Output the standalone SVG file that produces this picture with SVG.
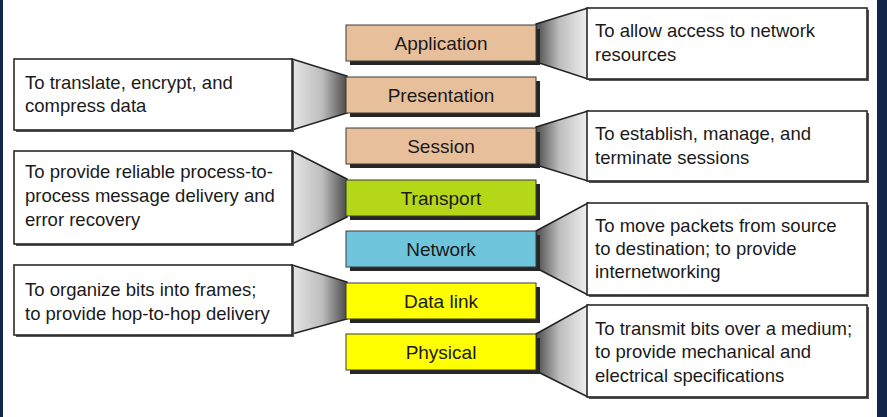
<svg xmlns="http://www.w3.org/2000/svg" width="887" height="417" viewBox="0 0 887 417">
<defs>
<linearGradient id="gR" x1="0" y1="0" x2="1" y2="0">
<stop offset="0" stop-color="#4a4a4a"/>
<stop offset="0.45" stop-color="#bdbdbd"/>
<stop offset="1" stop-color="#f0f0f0"/>
</linearGradient>
<linearGradient id="gL" x1="1" y1="0" x2="0" y2="0">
<stop offset="0" stop-color="#4a4a4a"/>
<stop offset="0.45" stop-color="#bdbdbd"/>
<stop offset="1" stop-color="#e6e6e6"/>
</linearGradient>
<style>
.cR{fill:url(#gR);stroke:#222;stroke-width:1.5;stroke-linejoin:miter}
.cL{fill:url(#gL);stroke:#222;stroke-width:1.5;stroke-linejoin:miter}
.sh{fill:#262626}
.lay{stroke:#3a3a3a;stroke-width:1}
.peach{fill:#e8bf9b}
.green{fill:#b4d718}
.blue{fill:#6fc6dc}
.yellow{fill:#ffff00}
.lbl{font-family:"Liberation Sans",Arial,sans-serif;font-size:19px;fill:#1a1a1a;text-anchor:middle}
.db{fill:#fff;stroke:#2a2a2a;stroke-width:1.6}
.dsh{fill:#555}
.dt{font-family:"Liberation Sans",Arial,sans-serif;font-size:18.5px;fill:#1a1a1a}
</style>
</defs>
<rect x="0" y="0" width="887" height="417" fill="#ffffff"/>
<rect x="0" y="0" width="3" height="417" fill="#12264a"/>
<rect x="877" y="0" width="10" height="417" fill="#12264a"/>

<g id="connectors">
<polygon class="cR" points="536,24 588,8 588,79 536,62"/>
<polygon class="cL" points="292,59 347,76 347,113 292,130"/>
<polygon class="cR" points="536,127 588,111 588,181 536,165"/>
<polygon class="cL" points="292,151 347,179 347,217 292,244"/>
<polygon class="cR" points="536,231 588,203 588,295 536,268"/>
<polygon class="cL" points="292,265 347,282 347,319 292,334"/>
<polygon class="cR" points="536,334 588,305 588,397 536,371"/>
</g>

<g id="application">
<rect class="sh" x="350" y="29" width="190" height="36"/>
<rect class="lay peach" x="346" y="25" width="190" height="36"/>
<text class="lbl" x="441" y="49.5">Application</text>
</g>
<g id="presentation">
<rect class="sh" x="350" y="81" width="190" height="36"/>
<rect class="lay peach" x="346" y="77" width="190" height="36"/>
<text class="lbl" x="441" y="101.5">Presentation</text>
</g>
<g id="session">
<rect class="sh" x="350" y="132" width="190" height="36"/>
<rect class="lay peach" x="346" y="128" width="190" height="36"/>
<text class="lbl" x="441" y="152.5">Session</text>
</g>
<g id="transport">
<rect class="sh" x="350" y="184" width="190" height="36"/>
<rect class="lay green" x="346" y="180" width="190" height="36"/>
<text class="lbl" x="441" y="204.5">Transport</text>
</g>
<g id="network">
<rect class="sh" x="350" y="235" width="190" height="36"/>
<rect class="lay blue" x="346" y="231" width="190" height="36"/>
<text class="lbl" x="441" y="255.5">Network</text>
</g>
<g id="datalink">
<rect class="sh" x="350" y="287" width="190" height="36"/>
<rect class="lay yellow" x="346" y="283" width="190" height="36"/>
<text class="lbl" x="441" y="307.5">Data link</text>
</g>
<g id="physical">
<rect class="sh" x="350" y="338" width="190" height="36"/>
<rect class="lay yellow" x="346" y="334" width="190" height="36"/>
<text class="lbl" x="441" y="358.5">Physical</text>
</g>

<g id="desc-application">
<rect class="dsh" x="589" y="10" width="280" height="71"/>
<rect class="db" x="587" y="8" width="280" height="71"/>
<text class="dt" x="595" y="37">To allow access to network</text>
<text class="dt" x="595" y="61">resources</text>
</g>
<g id="desc-presentation">
<rect class="dsh" x="16" y="61" width="278" height="71"/>
<rect class="db" x="14" y="59" width="278" height="71"/>
<text class="dt" x="25" y="89">To translate, encrypt, and</text>
<text class="dt" x="25" y="112">compress data</text>
</g>
<g id="desc-session">
<rect class="dsh" x="589" y="113" width="280" height="70"/>
<rect class="db" x="587" y="111" width="280" height="70"/>
<text class="dt" x="595" y="140">To establish, manage, and</text>
<text class="dt" x="595" y="164">terminate sessions</text>
</g>
<g id="desc-transport">
<rect class="dsh" x="16" y="153" width="278" height="93"/>
<rect class="db" x="14" y="151" width="278" height="93"/>
<text class="dt" x="25" y="178">To provide reliable process-to-</text>
<text class="dt" x="25" y="202">process message delivery and</text>
<text class="dt" x="25" y="226">error recovery</text>
</g>
<g id="desc-network">
<rect class="dsh" x="589" y="205" width="280" height="92"/>
<rect class="db" x="587" y="203" width="280" height="92"/>
<text class="dt" x="595" y="232">To move packets from source</text>
<text class="dt" x="595" y="255">to destination; to provide</text>
<text class="dt" x="595" y="278">internetworking</text>
</g>
<g id="desc-datalink">
<rect class="dsh" x="16" y="267" width="278" height="70"/>
<rect class="db" x="14" y="265" width="278" height="70"/>
<text class="dt" x="25" y="296">To organize bits into frames;</text>
<text class="dt" x="25" y="320">to provide hop-to-hop delivery</text>
</g>
<g id="desc-physical">
<rect class="dsh" x="589" y="307" width="280" height="92"/>
<rect class="db" x="587" y="305" width="280" height="92"/>
<text class="dt" x="595" y="335">To transmit bits over a medium;</text>
<text class="dt" x="595" y="358">to provide mechanical and</text>
<text class="dt" x="595" y="382">electrical specifications</text>
</g>
</svg>
